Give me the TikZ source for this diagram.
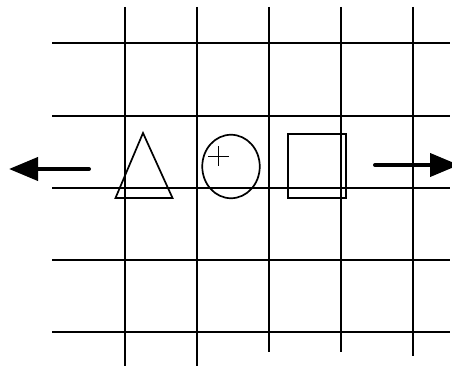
\documentclass[tikz,border=0pt]{standalone}
\usetikzlibrary{arrows.meta,shapes.geometric}
\begin{document}
\begin{tikzpicture}[x=1pt,y=-1pt,
  gridline/.style={line width=2pt,black},
  shapeline/.style={line width=1.7pt,black},
  bigarrow/.style={line width=4pt,line cap=round,-{Triangle[length=29pt,width=23pt]}}]
\useasboundingbox (0,0) rectangle (452,366);
% vertical lines
\foreach \x/\b in {125/366,197/366,269/352,341/352,413/356}
  \draw[gridline] (\x,7) -- (\x,\b);
% horizontal lines
\foreach \y in {43,116,188,260,332}
  \draw[gridline] (52,\y) -- (450,\y);
% triangle
\coordinate (tA) at (143,133);
\coordinate (tB) at (115.5,198);
\coordinate (tC) at (172.5,198);
\draw[shapeline,line join=miter] (tA) -- (tB) -- (tC) -- cycle;
% circle with plus
\node[shapeline,draw,ellipse,minimum width=57.5pt,minimum height=63.5pt,inner sep=0pt] (circ) at (231,166.5) {};
\coordinate (pL) at (208,156.5);
\coordinate (pR) at (228.5,156.5);
\coordinate (pT) at (218.5,146.5);
\coordinate (pB) at (218.5,166.5);
\draw[shapeline] (pL) -- (pR) (pT) -- (pB);
% square
\node[shapeline,draw,rectangle,minimum width=58pt,minimum height=64pt,inner sep=0pt] (sq) at (317,166) {};
% arrows
\coordinate (la) at (89,169);
\coordinate (lb) at (9,169);
\draw[bigarrow] (la) -- (lb);
\coordinate (ra) at (375,165);
\coordinate (rb) at (459,165);
\draw[bigarrow] (ra) -- (rb);
\end{tikzpicture}
\end{document}
